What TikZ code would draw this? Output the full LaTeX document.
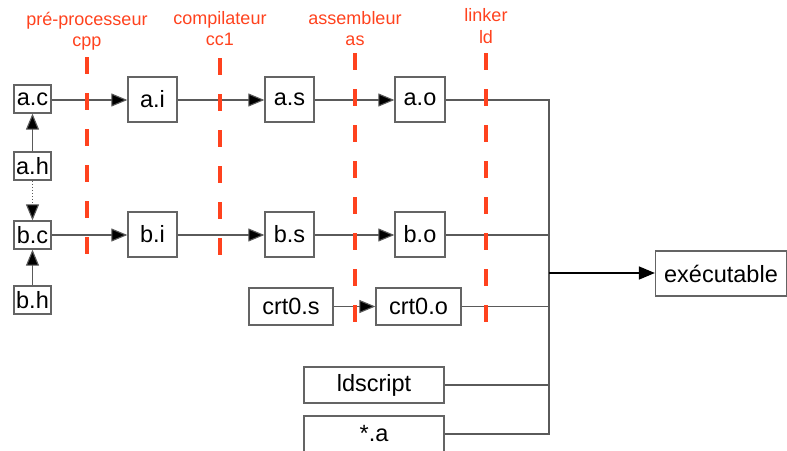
\documentclass[tikz,border=0pt]{standalone}
\usepackage{fontspec}
\setmainfont{Liberation Sans}
\usetikzlibrary{arrows.meta}
\definecolor{stage}{RGB}{255,66,30}
\definecolor{boxline}{RGB}{100,100,100}
\definecolor{conn}{RGB}{90,90,90}
\begin{document}
\begin{tikzpicture}[x=1pt,y=-1pt,
  file/.style={draw=boxline,line width=1.3pt,inner sep=0pt,fill=white,
    font=\fontsize{23.5}{25}\selectfont},
  small/.style={file,minimum width=37pt,minimum height=28pt},
  mid/.style={file,minimum width=49pt,minimum height=45pt},
  link/.style={draw=conn,line width=1.1pt},
  tip/.style={-{Triangle[length=16pt,width=13pt,fill=black]}},
  arr/.style={link,tip},
  stagelabel/.style={text=stage,font=\fontsize{18}{20}\selectfont,anchor=base,inner sep=0pt},
  stageline/.style={draw=stage,line width=4pt,dash pattern=on 17pt off 19pt}
]
\useasboundingbox (0,0) rectangle (787,450);
% stage labels
\node[stagelabel] (l1) at (87,25) {pré-processeur};
\node[stagelabel] (l1b) at (87,46) {cpp};
\node[stagelabel] (l2) at (220,24) {compilateur};
\node[stagelabel] (l2b) at (220,45) {cc1};
\node[stagelabel] (l3) at (355,24) {assembleur};
\node[stagelabel] (l3b) at (355,45) {as};
\node[stagelabel] (l4) at (486,21) {linker};
\node[stagelabel] (l4b) at (486,43) {ld};
% nodes
\node[small] (ac) at (32.5,99) {a.c};
\node[small] (ah) at (32.5,166) {a.h};
\node[small] (bc) at (32.5,235) {b.c};
\node[small] (bh) at (32.5,300) {b.h};
\node[mid] (ai) at (152.5,99.5) {a.i};
\node[mid] (as) at (289.5,99.5) {a.s};
\node[mid,minimum width=50pt] (ao) at (420,99.5) {a.o};
\node[mid] (bi) at (152.5,234.5) {b.i};
\node[mid] (bs) at (289.5,234.5) {b.s};
\node[mid,minimum width=50pt] (bo) at (420,234.5) {b.o};
\node[file,minimum width=84pt,minimum height=37pt] (c0s) at (291,306.5) {crt0.s};
\node[file,minimum width=85pt,minimum height=37pt] (c0o) at (418.5,306.5) {crt0.o};
\node[file,minimum width=140pt,minimum height=36pt] (lds) at (374,385) {ldscript};
\node[file,minimum width=140pt,minimum height=36pt] (liba) at (374,434) {*.a};
\node[file,minimum width=131pt,minimum height=45pt] (exe) at (721,273.5) {exécutable};
% connectors
\draw[arr] (ac.east |- 0,100) -- (ai.west |- 0,100);
\draw[arr] (ai.east |- 0,100) -- (as.west |- 0,100);
\draw[arr] (as.east |- 0,100) -- (ao.west |- 0,100);
\draw[arr] (bc) -- (bi.west |- bc);
\draw[arr] (bi.east |- bc) -- (bs.west |- bc);
\draw[arr] (bs.east |- bc) -- (bo.west |- bc);
\draw[arr] (ah) -- (ac);
\draw[arr] (bh) -- (bc);
\draw[arr,dotted] (ah) -- (bc);
\draw[arr] (c0s) -- (c0o);
\coordinate (mtop) at (549,100);
\coordinate (mbot) at (549,434);
\coordinate (mj) at (549,273);
\draw[link] (ao.east |- 0,100) -- (mtop) -- (mbot) -- (liba.east |- mbot);
\draw[link] (bo.east |- bc) -- (mtop |- bc);
\draw[link] (c0o) -- (mtop |- c0o);
\draw[link] (lds) -- (mtop |- lds);
\draw[draw=black,line width=1.6pt,tip] (mj) -- (exe.west |- mj);
% stage dashed lines (on top of connectors)
\coordinate (d1t) at (87,57); \coordinate (d1b) at (87,255);
\coordinate (d2t) at (220,58); \coordinate (d2b) at (220,257);
\coordinate (d3t) at (355,53); \coordinate (d3b) at (355,328);
\coordinate (d4t) at (486,53); \coordinate (d4b) at (486,328);
\path[stageline] (d1t) -- (d1b);
\path[stageline] (d2t) -- (d2b);
\path[stageline] (d3t) -- (d3b);
\path[stageline] (d4t) -- (d4b);
\end{tikzpicture}
\end{document}
